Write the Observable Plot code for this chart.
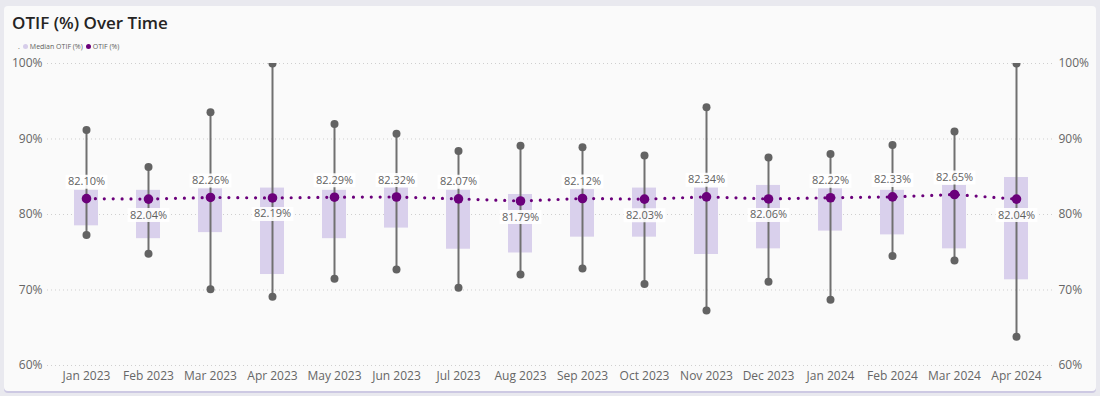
<!DOCTYPE html>
<html><head><meta charset="utf-8">
<script src="https://cdn.jsdelivr.net/npm/d3@7"></script>
<script src="https://cdn.jsdelivr.net/npm/@observablehq/plot@0.6"></script>
<style>
body{margin:0;background:#e9e9ef;width:1100px;height:396px;overflow:hidden;font-family:"Open Sans",sans-serif;position:relative;}
#card{position:absolute;left:4px;top:6px;width:1092px;height:385px;background:#fafafa;border-radius:4px;box-shadow:0 2px 0 #cdc9e3;}
#title{position:absolute;left:12px;top:11px;font-size:17px;font-weight:600;color:#252423;white-space:nowrap;}
#legend{position:absolute;left:18px;top:42px;font-size:7px;color:#605e5c;white-space:nowrap;display:flex;align-items:center;}
#legend .sw{display:inline-block;width:5px;height:5px;border-radius:50%;margin:0 2px 0 3px;}
#chart{position:absolute;left:0;top:52px;}
</style></head>
<body>
<div id="card"></div>
<div id="title">OTIF (%) Over Time</div>
<div id="legend"><span>.</span><span class="sw" style="background:#d6cdea"></span><span>Median OTIF (%)</span><span class="sw" style="background:#6b007b"></span><span>OTIF (%)</span></div>
<div id="chart"></div>
<script>
const months = ["Jan 2023","Feb 2023","Mar 2023","Apr 2023","May 2023","Jun 2023","Jul 2023","Aug 2023","Sep 2023","Oct 2023","Nov 2023","Dec 2023","Jan 2024","Feb 2024","Mar 2024","Apr 2024"];
const otif = [82.10,82.04,82.26,82.19,82.29,82.32,82.07,81.79,82.12,82.03,82.34,82.06,82.22,82.33,82.65,82.04];
const boxLow = [78.5,76.8,77.6,72.05,76.8,78.2,75.4,74.9,77.0,77.0,74.7,75.45,77.8,77.3,75.45,71.35];
const boxHigh = [83.2,83.2,83.4,83.5,83.2,83.5,83.2,82.65,83.3,83.5,83.5,83.85,83.4,83.2,83.85,84.9];
const whiskerLow = [77.3,74.8,70.1,69.1,71.5,72.7,70.3,72.05,72.85,70.8,67.3,71.1,68.7,74.5,73.9,63.8];
const whiskerHigh = [91.2,86.3,93.55,100,92.0,90.7,88.4,89.1,88.9,87.8,94.2,87.55,88.0,89.2,91.0,100];
const yTicks = [60,70,80,90,100];

const data = months.map((m,i)=>{
  const prev = i>0 ? otif[i-1] : Infinity;
  const next = i<otif.length-1 ? otif[i+1] : Infinity;
  return {month:m, otif:otif[i], q1:boxLow[i], q3:boxHigh[i], lo:whiskerLow[i], hi:whiskerHigh[i],
          below: otif[i] < prev && otif[i] < next};
});
const above = data.filter(d=>!d.below), below = data.filter(d=>d.below);
const rectSym = {draw(ctx){ ctx.rect(-21,-7,42,14); }};
const fmt = d => d.otif.toFixed(2) + "%";
const purple = "#6b007b";

const chart = Plot.plot({
  width:1100, height:336,
  marginTop:11, marginBottom:23, marginLeft:47, marginRight:48,
  insetLeft:7, insetRight:5,
  style:{background:"transparent", fontFamily:"Open Sans, sans-serif", fontSize:"12px", color:"#605e5c"},
  x:{type:"band", domain:months, padding:0, label:null},
  y:{domain:[60,100], label:null},
  marks:[
    Plot.ruleY(yTicks, {stroke:"#cfcfcf", strokeDasharray:"1,3"}),
    Plot.barY(data, {x:"month", y1:"q1", y2:"q3", fill:"#d9d0ec", insetLeft:19, insetRight:19}),
    Plot.ruleX(data, {x:"month", y1:"lo", y2:"hi", stroke:"#707070", strokeWidth:2}),
    Plot.dot(data, {x:"month", y:"lo", r:4, fill:"#636363", clip:"frame"}),
    Plot.dot(data, {x:"month", y:"hi", r:4, fill:"#636363", clip:"frame"}),
    Plot.dot(above, {x:"month", y:"otif", dy:-17, symbol:rectSym, fill:"white", fillOpacity:0.9, stroke:null}),
    Plot.dot(below, {x:"month", y:"otif", dy:16, symbol:rectSym, fill:"white", fillOpacity:0.9, stroke:null}),
    Plot.line(data, {x:"month", y:"otif", stroke:purple, strokeWidth:3.2, strokeDasharray:"0,8.9", strokeLinecap:"round"}),
    Plot.dot(data, {x:"month", y:"otif", r:4.8, fill:purple}),
    Plot.text(above, {x:"month", y:"otif", dy:-17, text:fmt, fontSize:11, fill:"#5f5f5f"}),
    Plot.text(below, {x:"month", y:"otif", dy:16, text:fmt, fontSize:11, fill:"#5f5f5f"}),
    Plot.axisY(yTicks, {anchor:"left", tickSize:0, tickPadding:5, tickFormat:d=>d+"%", label:null, fontSize:12, fill:"#666"}),
    Plot.axisY(yTicks, {anchor:"right", tickSize:0, tickPadding:6, tickFormat:d=>d+"%", label:null, fontSize:12, fill:"#666"}),
    Plot.axisX({tickSize:0, tickPadding:6, label:null, fontSize:12, fill:"#666"})
  ]
});
document.getElementById("chart").appendChild(chart);
</script>
</body></html>
